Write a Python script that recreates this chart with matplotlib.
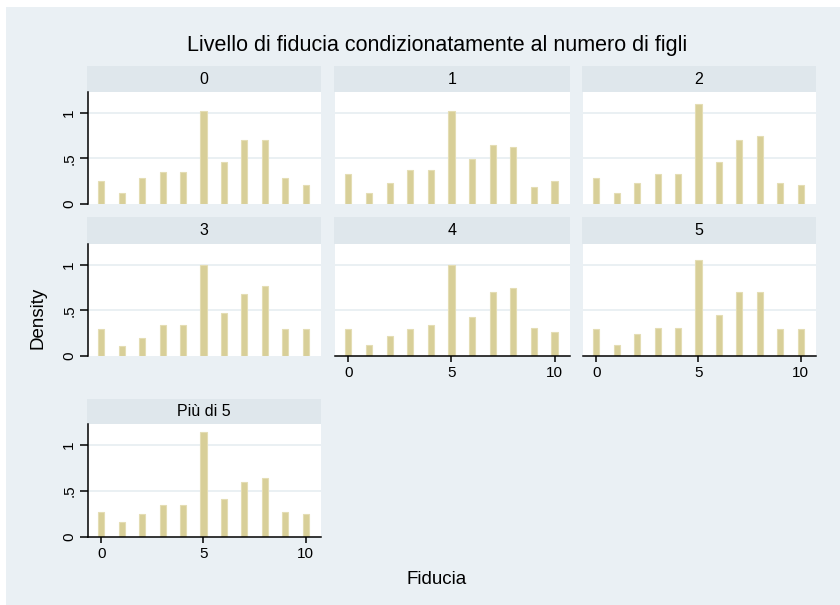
import matplotlib
matplotlib.use("Agg")
import matplotlib.pyplot as plt
from matplotlib.patches import Rectangle

plt.rcParams["font.family"] = ["Liberation Sans", "DejaVu Sans"]

# Fiducia score (0-10) and density per group of number of children
fiducia = list(range(11))
groups = ["0", "1", "2", "3", "4", "5", "Più di 5"]
dens_0 = [0.25, 0.12, 0.28, 0.35, 0.35, 1.02, 0.46, 0.70, 0.70, 0.28, 0.21]
dens_1 = [0.325, 0.12, 0.23, 0.37, 0.37, 1.02, 0.49, 0.645, 0.625, 0.185, 0.255]
dens_2 = [0.28, 0.12, 0.23, 0.325, 0.325, 1.095, 0.46, 0.70, 0.745, 0.23, 0.21]
dens_3 = [0.29, 0.105, 0.195, 0.335, 0.335, 1.00, 0.47, 0.68, 0.77, 0.29, 0.29]
dens_4 = [0.29, 0.125, 0.215, 0.29, 0.335, 1.00, 0.43, 0.70, 0.745, 0.31, 0.265]
dens_5 = [0.29, 0.125, 0.245, 0.31, 0.31, 1.045, 0.45, 0.70, 0.70, 0.29, 0.29]
dens_6 = [0.27, 0.16, 0.25, 0.345, 0.345, 1.135, 0.415, 0.60, 0.645, 0.27, 0.25]
densities = [dens_0, dens_1, dens_2, dens_3, dens_4, dens_5, dens_6]

title = "Livello di fiducia condizionatamente al numero di figli"
xlabel = "Fiducia"
ylabel = "Density"
yticks = [0, 0.5, 1]
yticklabels = ["0", ".5", "1"]
xticks = [0, 5, 10]

BG = "#eaf0f4"
STRIP = "#dfe7ec"
GRID = "#e6eef1"
BAR = "#d8cf98"
BAR_EDGE = "#e4ddb4"

W, H = 840, 605
fig = plt.figure(figsize=(W / 100, H / 100), dpi=100)
fig.patch.set_facecolor("white")
fig.patches.append(Rectangle((6 / W, 0), 1, 1 - 7 / H, transform=fig.transFigure,
                             facecolor=BG, edgecolor="none", zorder=-10))


def rect(x0, y0, x1, y1):
    # pixel box (top-left origin) -> figure fraction
    return [x0 / W, 1 - y1 / H, (x1 - x0) / W, (y1 - y0) / H]


cols = [(88, 321), (335, 570), (583, 816)]
rows = [(66, 92, 204), (217, 244, 356), (399, 424, 537)]

for i, (name, dens) in enumerate(zip(groups, densities)):
    r, c = divmod(i, 3)
    x0, x1 = cols[c]
    s0, p0, p1 = rows[r]
    bottom_row = (r == 2) or (r == 1 and c > 0)

    # strip header
    sax = fig.add_axes(rect(x0 - 1, s0, x1, p0))
    sax.set_facecolor(STRIP)
    sax.set_xticks([]); sax.set_yticks([])
    for sp in sax.spines.values():
        sp.set_visible(False)
    sax.text(0.5, 0.5, name, ha="center", va="center", fontsize=11.5)

    ax = fig.add_axes(rect(x0, p0, x1, p1))
    ax.set_facecolor("white")
    ax.bar(fiducia, dens, width=0.3, color=BAR, edgecolor=BAR_EDGE, linewidth=0.8, zorder=2)
    ax.set_xlim(-0.65, 10.75)
    ax.set_ylim(0, 1.225)
    for y in yticks[1:]:
        ax.axhline(y, color=GRID, linewidth=1.2, zorder=1)

    for sp in ["top", "right"]:
        ax.spines[sp].set_visible(False)
    ax.spines["left"].set_visible(c == 0)
    ax.spines["bottom"].set_visible(bottom_row)
    ax.spines["left"].set_linewidth(1.1)
    ax.spines["bottom"].set_linewidth(1.1)

    if c == 0:
        ax.set_yticks(yticks)
        ax.set_yticklabels(yticklabels, rotation=90, va="center", fontsize=11)
        ax.tick_params(axis="y", length=5.5, width=1.1, pad=3)
    else:
        ax.set_yticks([])
    if bottom_row:
        ax.set_xticks(xticks)
        ax.tick_params(axis="x", length=4.5, width=1.1, pad=3, labelsize=11)
    else:
        ax.set_xticks([])

fig.text(437 / W, 1 - 45 / H, title, ha="center", va="center", fontsize=15.5)
fig.text(437 / W, 1 - 580 / H, xlabel, ha="center", va="center", fontsize=13.5)
fig.text(38 / W, 1 - 318 / H, ylabel, ha="center", va="center", rotation=90, fontsize=13.5)

fig.savefig("out.png", dpi=100)
